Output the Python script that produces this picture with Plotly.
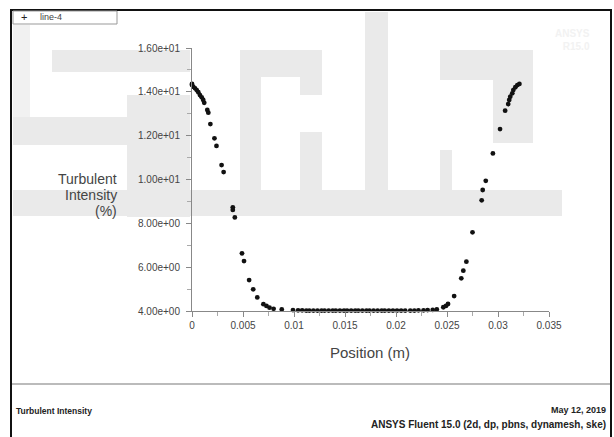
import plotly.graph_objects as go

# Turbulent intensity profile along line-4 (position in m, intensity in %)
position = [
    0.0000, 0.0000, 0.00013, 0.0003, 0.00046, 0.00062, 0.00078, 0.00095, 0.0011, 0.0012,
    0.0015, 0.0016, 0.0018, 0.0022, 0.0024, 0.0029, 0.0031, 0.0040, 0.0040, 0.0042,
    0.0049, 0.0051, 0.0056, 0.0060, 0.0064, 0.0070, 0.0073, 0.0076, 0.0080, 0.0088,
    0.0099, 0.0104, 0.0108, 0.0112, 0.0115, 0.0119, 0.0123, 0.0127, 0.0130, 0.0134,
    0.0138, 0.0141, 0.0145, 0.0149, 0.0152, 0.0156, 0.0160, 0.0163, 0.0167, 0.0171,
    0.0174, 0.0178, 0.0182, 0.0186, 0.0189, 0.0193, 0.0197, 0.0201, 0.0205, 0.0209,
    0.0214, 0.0218, 0.0222, 0.0227, 0.0231, 0.0236, 0.0240,
    0.02464, 0.0249, 0.0251, 0.0257, 0.0264, 0.0266, 0.0269, 0.0275, 0.0284, 0.0285,
    0.0288, 0.0295, 0.0302, 0.0307, 0.0310, 0.0311, 0.0312, 0.0314, 0.0315, 0.0317,
    0.0319, 0.0321,
]
intensity = [
    14.36, 14.31, 14.23, 14.16, 14.08, 13.98, 13.85, 13.75, 13.63, 13.50,
    13.17, 13.05, 12.53, 11.88, 11.53, 10.66, 10.34, 8.73, 8.61, 8.27,
    6.63, 6.28, 5.41, 4.99, 4.62, 4.31, 4.23, 4.15, 4.10, 4.07,
    4.04, 4.03, 4.03, 4.02, 4.02, 4.02, 4.02, 4.02, 4.02, 4.02,
    4.02, 4.02, 4.02, 4.02, 4.02, 4.02, 4.02, 4.02, 4.02, 4.02,
    4.02, 4.02, 4.02, 4.02, 4.02, 4.02, 4.02, 4.02, 4.02, 4.02,
    4.02, 4.02, 4.03, 4.03, 4.04, 4.05, 4.07,
    4.17, 4.23, 4.32, 4.68, 5.49, 5.84, 6.25, 7.59, 9.05, 9.52,
    9.94, 11.19, 12.30, 13.14, 13.44, 13.63, 13.78, 13.93, 14.08, 14.21,
    14.31, 14.36,
]

x_ticks = [0, 0.005, 0.01, 0.015, 0.02, 0.025, 0.03, 0.035]
x_labels = ["0", "0.005", "0.01", "0.015", "0.02", "0.025", "0.03", "0.035"]
x_minor = [0.0025, 0.0075, 0.0125, 0.0175, 0.0225, 0.0275, 0.0325]
y_ticks = [4, 6, 8, 10, 12, 14, 16]
y_labels = ["4.00e+00", "6.00e+00", "8.00e+00", "1.00e+01",
            "1.20e+01", "1.40e+01", "1.60e+01"]
y_minor = [5, 7, 9, 11, 13, 15]

W, H = 614, 437
L, R, T, B = 192, 65, 48, 126
FONT = "Liberation Sans, Arial, sans-serif"


def px_x(px):
    return (px - L) / (W - L - R)


def px_y(py):
    return (H - B - py) / (H - B - T)


fig = go.Figure()
fig.add_trace(go.Scatter(
    x=position, y=intensity, mode="markers", name="line-4",
    marker=dict(symbol="circle", size=4.8, color="#111111"),
    showlegend=False, cliponaxis=False,
))

shapes = []
# faint background lettering
wm_blocks = [
    (52, 50, 190, 72), (13, 117, 127, 145), (127, 95, 190, 217),
    (13, 190, 562, 216), (240, 50, 322, 77), (240, 50, 261, 190),
    (300, 50, 322, 95), (300, 132, 322, 190), (365, 12, 388, 190),
    (440, 50, 533, 80), (493, 80, 533, 143), (440, 150, 452, 190),
]
for x0, y0, x1, y1 in wm_blocks:
    shapes.append(dict(type="rect", xref="paper", yref="paper", layer="below",
                       x0=px_x(x0), x1=px_x(x1), y0=px_y(y0), y1=px_y(y1),
                       fillcolor="#eaeaea", line=dict(width=0)))
shapes.append(dict(type="rect", xref="paper", yref="paper", layer="below",
                   x0=px_x(13), x1=px_x(30), y0=px_y(25), y1=px_y(117),
                   fillcolor="#f1f1f1", line=dict(width=0)))

# outer frame and footer separator
shapes.append(dict(type="rect", xref="paper", yref="paper",
                   x0=px_x(11), x1=px_x(611), y0=px_y(10), y1=px_y(438),
                   line=dict(color="#111111", width=2)))
shapes.append(dict(type="line", xref="paper", yref="paper",
                   x0=px_x(12), x1=px_x(610), y0=px_y(384), y1=px_y(384),
                   line=dict(color="#bbbbbb", width=2)))
# legend box
shapes.append(dict(type="rect", xref="paper", yref="paper",
                   x0=px_x(13), x1=px_x(117), y0=px_y(11), y1=px_y(24),
                   fillcolor="white", line=dict(color="#999999", width=1)))

annotations = [
    dict(text="+", x=px_x(24), y=px_y(17), font=dict(size=11, color="#222")),
    dict(text="line-4", x=px_x(38), y=px_y(17), xanchor="left",
         font=dict(size=9, color="#444")),
    dict(text="Turbulent", x=px_x(119), y=px_y(179), xanchor="right",
         font=dict(size=14, color="#444")),
    dict(text="Intensity", x=px_x(119), y=px_y(195), xanchor="right",
         font=dict(size=14, color="#444")),
    dict(text="(%)", x=px_x(119), y=px_y(211), xanchor="right",
         font=dict(size=14, color="#444")),
    dict(text="Position (m)", x=px_x(370), y=px_y(352),
         font=dict(size=15, color="#444")),
    dict(text="<b>Turbulent Intensity</b>", x=px_x(14), y=px_y(411), xanchor="left",
         font=dict(size=8.5, color="#222")),
    dict(text="<b>May 12, 2019</b>", x=px_x(608), y=px_y(410), xanchor="right",
         font=dict(size=9, color="#222")),
    dict(text="<b>ANSYS Fluent 15.0 (2d, dp, pbns, dynamesh, ske)</b>",
         x=px_x(608), y=px_y(424), xanchor="right",
         font=dict(size=10, color="#222")),
    dict(text="<b>ANSYS<br>R15.0</b>", x=px_x(592), y=px_y(40), xanchor="right",
         align="right", font=dict(size=10, color="#f2f2f2")),
]
for a in annotations:
    a.update(xref="paper", yref="paper", showarrow=False)
    a.setdefault("xanchor", "center")
    a.setdefault("yanchor", "middle")
    a["font"]["family"] = FONT

axis_common = dict(
    showgrid=False, zeroline=False, showline=True, linecolor="#888888",
    linewidth=1, ticks="outside", ticklen=5, tickcolor="#888888",
    tickfont=dict(family=FONT, size=10, color="#444"),
)

fig.update_layout(
    width=W, height=H,
    margin=dict(l=L, r=R, t=T, b=B, pad=0),
    paper_bgcolor="white", plot_bgcolor="rgba(0,0,0,0)",
    xaxis=dict(range=[0, 0.035], tickmode="array", tickvals=x_ticks,
               ticktext=x_labels,
               minor=dict(tickmode="array", tickvals=x_minor, ticks="outside",
                          ticklen=4, tickcolor="#aaaaaa"),
               **axis_common),
    yaxis=dict(range=[4, 16], tickmode="array", tickvals=y_ticks,
               ticktext=y_labels, ticklabelstandoff=4,
               minor=dict(tickmode="array", tickvals=y_minor, ticks="outside",
                          ticklen=4, tickcolor="#aaaaaa"),
               **axis_common),
    shapes=shapes, annotations=annotations, showlegend=False,
)

fig.write_html("out.html")
